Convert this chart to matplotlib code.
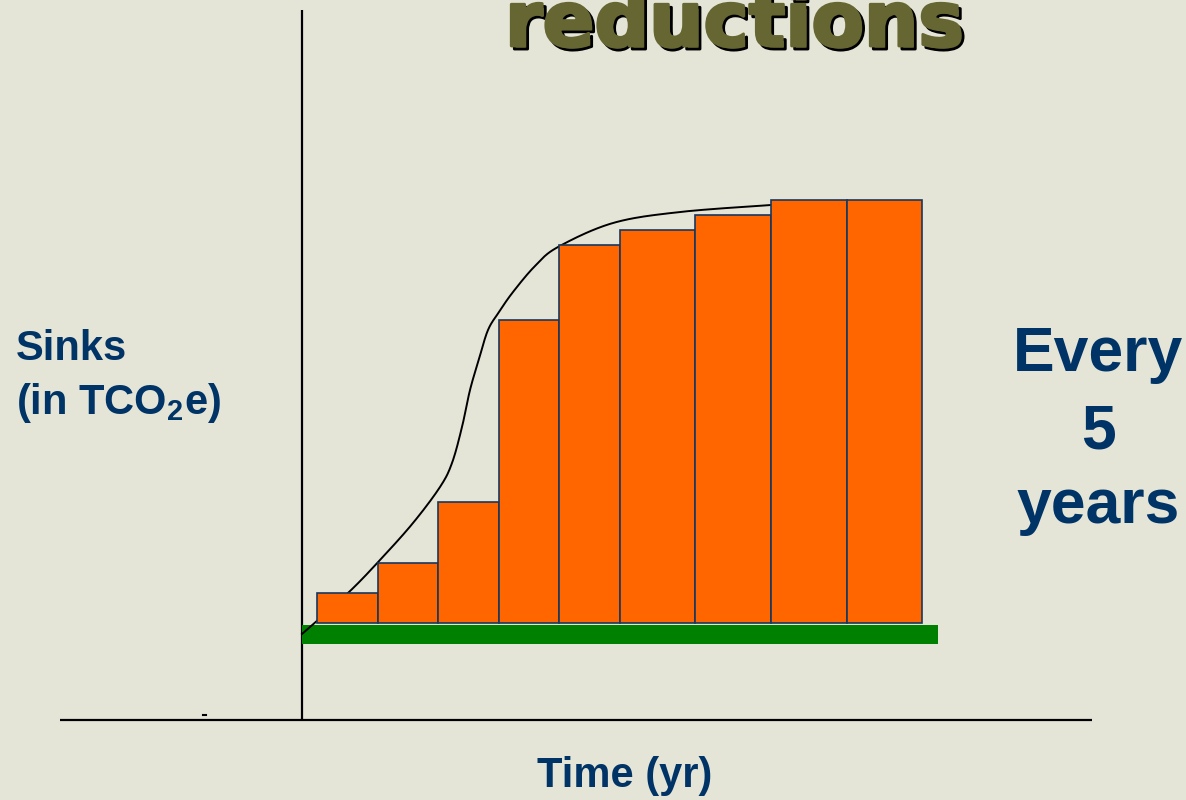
import matplotlib
matplotlib.use("Agg")
import matplotlib.pyplot as plt
import matplotlib.patheffects as pe
import numpy as np

# ---- data (x: time units from y-axis, y: sink units above baseline) ----
bar_lefts = [15, 76, 136, 197, 257, 318, 393, 469, 545]
bar_widths = [61, 60, 61, 60, 61, 75, 76, 76, 75]
bar_heights = [30, 60, 121, 303, 378, 393, 408, 423, 423]

curve_x = [0, 46, 78, 111, 138, 150, 160, 168, 177, 186, 197, 211, 233, 256, 311, 378, 469]
curve_y = [-11, 30, 63, 100, 136, 160, 196, 233, 264, 293, 311, 331, 357, 376, 400, 411, 418]

baseline_band = (0, 636, -21, -2)  # x0, x1, y0, y1 (green permanence band)

title_text = "reductions"
ylabel_lines = ["Sinks", "(in TCO$_2$e)"]
xlabel_text = "Time (yr)"
side_lines = ["Every", "5", "years"]

BG = "#E5E5D7"
NAVY = "#003366"
OLIVE = "#666633"
ORANGE = "#FF6600"
EDGE = "#17375E"
GREEN = "#008000"

plt.rcParams["mathtext.fontset"] = "custom"
plt.rcParams["mathtext.bf"] = "Liberation Sans:bold"
plt.rcParams["mathtext.rm"] = "Liberation Sans:bold"
plt.rcParams["mathtext.default"] = "bf"


def catmull_rom(xs, ys, n=20):
    p = np.column_stack([xs, ys]).astype(float)
    p = np.vstack([p[0], p, p[-1]])
    out = []
    for i in range(1, len(p) - 2):
        p0, p1, p2, p3 = p[i - 1], p[i], p[i + 1], p[i + 2]
        t = np.linspace(0, 1, n, endpoint=False)[:, None]
        seg = 0.5 * ((2 * p1) + (-p0 + p2) * t + (2 * p0 - 5 * p1 + 4 * p2 - p3) * t ** 2
                     + (-p0 + 3 * p1 - 3 * p2 + p3) * t ** 3)
        out.append(seg)
    out.append(p[-2][None, :])
    out = np.vstack(out)
    return out[:, 0], out[:, 1]


fig = plt.figure(figsize=(11.86, 8.0), dpi=100, facecolor=BG)
ax = fig.add_axes([0, 0, 1, 1])
ax.set_facecolor(BG)
ax.set_xlim(-302, 884)
ax.set_ylim(-177, 623)
ax.axis("off")

# axes lines
ax.plot([0, 0], [-97, 613], color="black", lw=1.6, zorder=1, solid_capstyle="butt")
ax.plot([-242, 790], [-97, -97], color="black", lw=1.6, zorder=1, solid_capstyle="butt")
ax.plot([-99, -96], [-92, -92], color="black", lw=1.5, zorder=1)

# green band
x0, x1, y0, y1 = baseline_band
ax.fill_between([x0, x1], [y0, y0], [y1, y1], color=GREEN, lw=0, zorder=2)

# curve (smoothed through the read points)
sx, sy = catmull_rom(curve_x, curve_y)
ax.plot(sx, sy, color="black", lw=1.4, zorder=3)

# bars
ax.bar(bar_lefts, bar_heights, width=bar_widths, align="edge", bottom=0,
       color=ORANGE, edgecolor=EDGE, linewidth=1.2, zorder=4)

# texts
fig.text(0.619, 1 - 46 / 800, title_text, fontsize=55, fontweight="bold",
         family="DejaVu Sans", color=OLIVE, ha="center", va="baseline",
         path_effects=[pe.withStroke(linewidth=2.0, foreground="black", offset=(2.2, -2.2)),
                       pe.withStroke(linewidth=2.0, foreground=OLIVE)])

fig.text(16 / 1186, 1 - 360 / 800, ylabel_lines[0], fontsize=30, fontweight="bold",
         family="Liberation Sans", color=NAVY, ha="left", va="baseline")
fig.text(16 / 1186, 1 - 414 / 800, ylabel_lines[1], fontsize=30, fontweight="bold",
         family="Liberation Sans", color=NAVY, ha="left", va="baseline")

for txt, yb in zip(side_lines, [371, 448, 523]):
    fig.text(1098 / 1186, 1 - yb / 800, txt, fontsize=45, fontweight="bold",
             family="Liberation Sans", color=NAVY, ha="center", va="baseline")

fig.text(625 / 1186, 1 - 787 / 800, xlabel_text, fontsize=30, fontweight="bold",
         family="Liberation Sans", color=NAVY, ha="center", va="baseline")

fig.savefig("out.png", dpi=100, facecolor=BG)
